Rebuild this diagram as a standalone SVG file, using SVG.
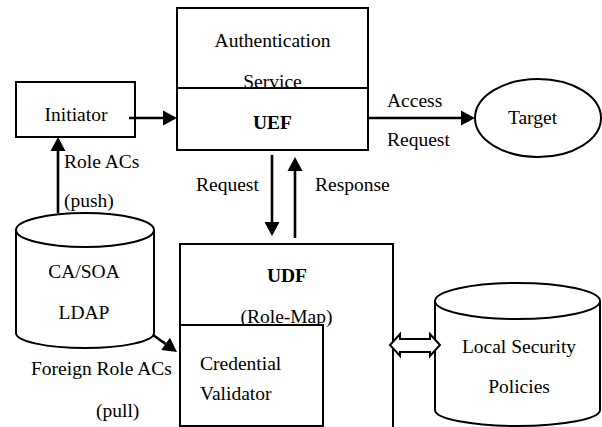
<svg xmlns="http://www.w3.org/2000/svg" width="602" height="427" viewBox="0 0 602 427">
<style>
.b{fill:#fff;stroke:#000;stroke-width:2}
.n{fill:none;stroke:#000;stroke-width:2}
.t{font-family:"Liberation Serif","Times New Roman",serif;font-size:19.5px;fill:#000}
.bo{font-weight:bold}
.m{text-anchor:middle}
.c{fill:none;stroke:#000;stroke-width:2.6}
</style>
<defs>
<marker id="ah" markerUnits="userSpaceOnUse" markerWidth="14" markerHeight="15" refX="0" refY="7.5" orient="auto" overflow="visible">
<path d="M0,0 L14,7.5 L0,15 Z" fill="#000"/>
</marker>
</defs>
<rect width="602" height="427" fill="#fff"/>
<g id="auth">
<rect class="b" x="177" y="8" width="191" height="142"/>
<line class="n" x1="177" y1="88" x2="368" y2="88"/>
<text class="t m" x="272.5" y="47">Authentication</text>
<text class="t m" x="272.5" y="88">Service</text>
<text class="t m bo" x="272.5" y="129">UEF</text>
</g>
<g id="initiator">
<rect class="b" x="16" y="82" width="119" height="55"/>
<text class="t m" x="76" y="121">Initiator</text>
</g>
<g id="target">
<ellipse class="b" cx="538" cy="118" rx="63" ry="39"/>
<text class="t m" x="532.5" y="124">Target</text>
</g>
<g id="casoa">
<path class="b" d="M16,230 L16,333 A69,15 0 0 0 154,333 L154,230"/>
<ellipse class="b" cx="85" cy="230" rx="69" ry="17"/>
<text class="t m" x="84" y="278">CA/SOA</text>
<text class="t m" x="84" y="319">LDAP</text>
</g>
<g id="udf">
<rect class="b" x="180" y="244" width="213" height="200"/>
<text class="t m bo" x="287" y="282">UDF</text>
<text class="t m" x="286.5" y="323">(Role-Map)</text>
</g>
<g id="validator">
<rect class="b" x="180" y="325" width="143" height="101"/>
<text class="t" x="200" y="370">Credential</text>
<text class="t" x="200" y="400">Validator</text>
</g>
<g id="policies">
<path class="b" d="M435,301 L435,410 A82.5,16 0 0 0 600,410 L600,301"/>
<ellipse class="b" cx="517.5" cy="301" rx="82.5" ry="18"/>
<text class="t m" x="519" y="353">Local Security</text>
<text class="t m" x="519" y="393">Policies</text>
</g>
<g id="connectors">
<path class="c" d="M129,118 L163,118" marker-end="url(#ah)"/>
<path class="c" d="M368,118 L461,118" marker-end="url(#ah)"/>
<path class="c" d="M58,213 L58,151" marker-end="url(#ah)"/>
<path class="c" d="M272,155 L272,222" marker-end="url(#ah)"/>
<path class="c" d="M295,238 L295,171" marker-end="url(#ah)"/>
<path class="c" d="M153,335 L165.6,343.9" marker-end="url(#ah)"/>
<path d="M390,345 L400,334 L400,339 L430,339 L430,334 L440,345 L430,356 L430,352 L400,352 L400,356 Z" fill="#fff" stroke="#000" stroke-width="2" stroke-linejoin="miter"/>
<text class="t" x="387" y="107">Access</text>
<text class="t" x="387" y="146">Request</text>
<text class="t" x="64" y="168">Role ACs</text>
<text class="t" x="64" y="207">(push)</text>
<text class="t" x="196" y="191">Request</text>
<text class="t" x="315" y="191">Response</text>
<text class="t" x="31" y="375">Foreign Role ACs</text>
<text class="t" x="96" y="417">(pull)</text>
</g>
</svg>
